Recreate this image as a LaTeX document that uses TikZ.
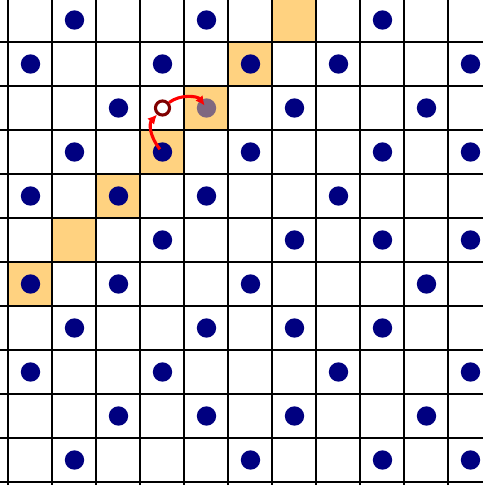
\documentclass[tikz,border=0pt]{standalone}
\usetikzlibrary{arrows.meta}
\definecolor{site}{RGB}{0,0,128}
\definecolor{flip}{RGB}{255,210,128}
\definecolor{hole}{RGB}{128,0,0}
\begin{document}
\begin{tikzpicture}[dot/.style={circle,fill=site,inner sep=0pt,minimum size=4.4mm},hollow/.style={circle,draw=hole,line width=2pt,inner sep=0pt,minimum size=3.2mm},ghost/.style={dot,fill opacity=0.5},hop/.style={-{Latex[length=6pt,width=6pt]},red,line width=2pt},gridline/.style={black,line width=1.3pt}]
\useasboundingbox (-0.193,-0.068) rectangle (10.784,10.955);
\clip (-0.193,-0.068) rectangle (10.784,10.955);
% diagonal of flipped cells
\foreach \r in {0,...,6}{\fill[flip] ({6-\r},{10-\r}) rectangle ++(1,1);}
\foreach \i in {0,...,11}{\draw[gridline] (\i,-1)--(\i,12);\draw[gridline] (-1,\i)--(12,\i);}
% occupied sites, row by row from the top
\foreach \r/\cs in {0/{1,4,8},1/{0,3,5,7,10},2/{2,6,9},3/{1,3,5,8,10},4/{0,2,4,7},5/{3,6,8,10},6/{0,2,5,9},7/{1,4,6,8},8/{0,3,7,10},9/{2,4,6,9},10/{1,5,8,10}}{
  \foreach \c in \cs {\node[dot](d-\r-\c) at ({\c+0.5},{10.5-\r}){};}}
\node[hollow](old) at (3.5,8.5){};
\node[ghost](new) at (4.5,8.5){};
\draw[hop,shorten <=-4pt](d-3-3) to[bend left=40] (old);\draw[hop,shorten >=2pt](old.40) to[bend left=45] (new.center);
\end{tikzpicture}
\end{document}
